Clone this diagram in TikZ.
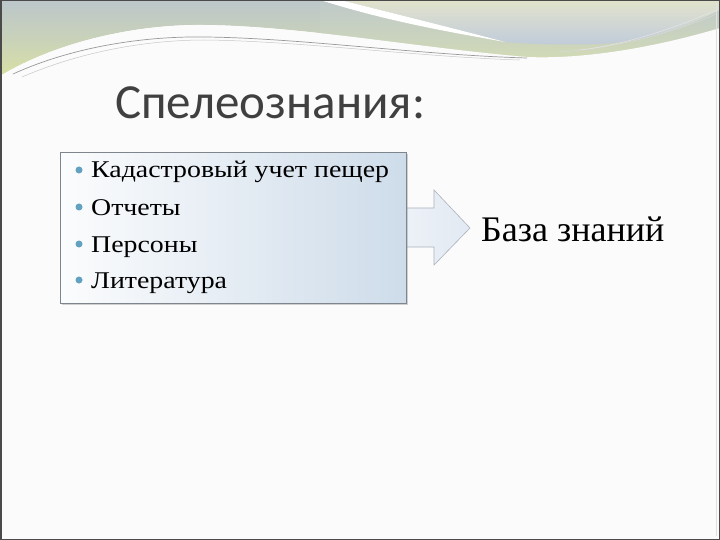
\documentclass[tikz,border=0pt]{standalone}
\usepackage{fontspec}
\setmainfont{Liberation Serif}
\newfontfamily\titlefont{Carlito}
\newfontfamily\listfont[FakeStretch=1.16]{Liberation Serif}
\usetikzlibrary{shadows}
\definecolor{bgc}{HTML}{FBFBFB}
\definecolor{frame}{HTML}{4A4A4A}
\definecolor{titlec}{HTML}{404040}
\definecolor{bulletc}{HTML}{62A2C0}
\definecolor{boxA}{HTML}{FBFCFD}
\definecolor{boxB}{HTML}{CEDCEA}
\definecolor{boxedge}{HTML}{7F858C}
\definecolor{wlTop}{HTML}{BCC6CB}
\definecolor{wlBot}{HTML}{D8E0A4}
\definecolor{wrTop}{HTML}{E2E2CC}
\definecolor{wrBot}{HTML}{C0CCDA}
\definecolor{wgTop}{HTML}{BFC9CA}
\definecolor{wgBot}{HTML}{D8E0AE}
\definecolor{arrA}{HTML}{EEF2F8}
\definecolor{arrB}{HTML}{E2E9F2}
\definecolor{arrEdge}{HTML}{AAB2BC}
\tikzset{
  listitem/.style={anchor=base west, inner sep=0pt, font=\listfont\fontsize{24}{28}\selectfont, text=black},
  bulletdot/.style={circle, fill=bulletc, inner sep=0pt, minimum size=7pt},
}
\begin{document}
\begin{tikzpicture}[x=1pt,y=-1pt]
\useasboundingbox (0,0) rectangle (720,540);
\fill[bgc] (0,0) rectangle (720,540);
% top decoration: left region
\shade[top color=wlTop, bottom color=wlBot, middle color=wlTop!55!wlBot]
  (0,0) -- (720,0) -- (720,28) .. controls (680,40) and (600,60) .. (527,57)
  .. controls (420,48) and (300,26) .. (205,25) .. controls (140,24) and (60,40) .. (0,76) -- cycle;
% greenish band below the stripe
\shade[top color=wgTop, bottom color=wgBot, middle color=wgTop!55!wgBot]
  (320,0) .. controls (390,22) and (450,32) .. (505,42) .. controls (530,44) and (560,45) .. (600,44)
  .. controls (640,42) and (680,30) .. (720,10) -- (720,40) -- (527,76) -- (320,45) -- cycle;
% right region (beige to blue)
\shade[top color=wrTop, bottom color=wrBot]
  (340,0) -- (720,0) -- (720,10) .. controls (680,30) and (640,42) .. (600,44)
  .. controls (560,45) and (530,44) .. (505,42) .. controls (460,30) and (400,15) .. (340,0) -- cycle;
% white stripe
\fill[white] (320,0) -- (340,0) .. controls (400,15) and (460,30) .. (505,42)
  .. controls (450,32) and (390,22) .. (320,0) -- cycle;
% faint lines on right band
\draw[white!70!gray, line width=0.5pt] (560,52) .. controls (620,48) and (680,30) .. (716,14);
\draw[white!80!gray, line width=0.5pt] (580,50) .. controls (630,44) and (680,26) .. (716,10);
% main white area
\fill[bgc] (0,76) .. controls (60,40) and (140,24) .. (205,25) .. controls (300,26) and (420,48) .. (527,57)
  .. controls (600,60) and (680,40) .. (720,28) -- (720,540) -- (0,540) -- cycle;
% gray lines
\draw[black!40, line width=0.7pt] (13,74) .. controls (70,48) and (140,36) .. (205,37) .. controls (300,38) and (420,55) .. (527,58);
\draw[black!22, line width=0.5pt] (22,77) .. controls (80,52) and (145,40) .. (205,40) .. controls (300,41) and (420,57) .. (520,60);
% frame
\draw[frame, line width=1.5pt] (0.75,0.75) rectangle (719.25,539.25);
\draw[black!12, line width=0.5pt] (716,4) -- (716,536);
% title
\node[anchor=base west, inner sep=0pt, text=titlec, font=\titlefont\fontsize{49}{54}\selectfont] (title) at (115,119) {Спелеознания:};
% arrow
\coordinate (arrowtip) at (470,228);
\shade[left color=arrA, right color=arrB, draw=arrEdge, line width=0.6pt]
  (400,208) -- (434,208) -- (434,190) -- (arrowtip) -- (434,265) -- (434,247) -- (400,247) -- cycle;
% box
\node[draw=boxedge, line width=0.8pt, minimum width=346pt, minimum height=151pt, anchor=north west, inner sep=0pt,
  shading angle=135, left color=boxA, right color=boxB,
  drop shadow={shadow xshift=1.5pt, shadow yshift=-2pt, opacity=0.35}] (box) at (60,152) {};
% items
\foreach \t/\yy/\n in {Кадастровый учет пещер/178/i1, Отчеты/215/i2, Персоны/252/i3, Литература/288/i4}{
  \node[bulletdot] (b\n) at (79,\yy-8) {};
  \node[listitem] (\n) at (91,\yy) {\t};
}
% target text
\node[anchor=base west, inner sep=0pt, font=\fontsize{36}{40}\selectfont] (kb) at (481,241) {База знаний};
\end{tikzpicture}
\end{document}
